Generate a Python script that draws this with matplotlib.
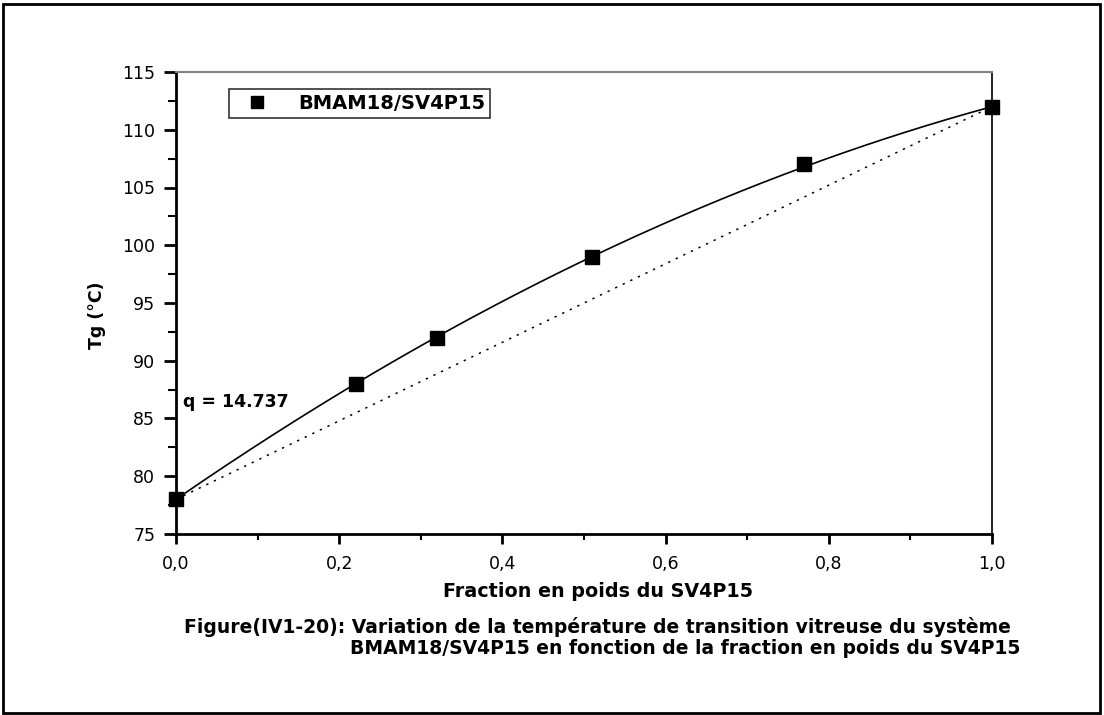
import matplotlib
matplotlib.use("Agg")
import matplotlib.pyplot as plt
import numpy as np
from matplotlib.patches import Rectangle
from matplotlib.ticker import MultipleLocator

plt.rcParams['font.family'] = ['DejaVu Sans']

# Data
fraction = [0.0, 0.22, 0.32, 0.51, 0.77, 1.0]
tg = [78, 88, 92, 99, 107, 112]
tg1 = 78.0
tg2 = 112.0
q = 14.737
series_label = "BMAM18/SV4P15"
xticks = [0.0, 0.2, 0.4, 0.6, 0.8, 1.0]
xtick_labels = ['0,0', '0,2', '0,4', '0,6', '0,8', '1,0']
yticks = [75, 80, 85, 90, 95, 100, 105, 110, 115]

W, H = 1104, 715
fig = plt.figure(figsize=(W/100, H/100), dpi=100)
ax = fig.add_axes([176/W, 1-534/H, (992-176)/W, (534-72)/H])

# Kwei fit curve and linear additivity line
w = np.linspace(0, 1, 200)
kwei = tg1*(1-w) + tg2*w + q*w*(1-w)
ax.plot(w, kwei, color='black', lw=1.2, zorder=2)
ax.plot([0, 1], [tg1, tg2], color='black', lw=1.1, linestyle=(0, (1.5, 4)), zorder=2)
ax.plot(fraction, tg, linestyle='none', marker='s', ms=9.5, color='black',
        label=series_label, zorder=3, clip_on=False)

ax.set_xlim(0, 1)
ax.set_ylim(75, 115)
ax.set_xticks(xticks)
ax.set_xticklabels(xtick_labels)
ax.set_yticks(yticks)
ax.xaxis.set_minor_locator(MultipleLocator(0.1))
ax.yaxis.set_minor_locator(MultipleLocator(2.5))

for s in ['left', 'bottom']:
    ax.spines[s].set_linewidth(2)
ax.spines['top'].set_color('#808080')
ax.spines['top'].set_linewidth(1.5)
ax.spines['right'].set_linewidth(1.2)
ax.tick_params(axis='y', which='major', direction='out', length=9, width=2, labelsize=12.5, pad=6)
ax.tick_params(axis='y', which='minor', direction='out', length=5.5, width=1.5)
ax.tick_params(axis='x', which='major', direction='out', length=7, width=2, labelsize=12.5, pad=8)
ax.tick_params(axis='x', which='minor', direction='out', length=4, width=1.5)
ax.tick_params(top=False, right=False, which='both')

ax.set_xlabel('Fraction en poids du SV4P15', fontsize=13.8, fontweight='bold')
ax.xaxis.set_label_coords((598-176)/816, -(582-534)/462)
ax.set_ylabel('Tg (°C)', fontsize=12.5, fontweight='bold')
ax.yaxis.set_label_coords(-(176-106)/816, (534-315)/462)

ax.text(0.008, 86.4, 'q = 14.737', fontsize=12.5, fontweight='bold', ha='left', va='center')

leg = ax.legend(loc='upper left', bbox_to_anchor=((229-176)/816, (534-89)/462), frameon=True,
                fancybox=False, edgecolor='black', handlelength=2.4,
                handletextpad=0.9, borderpad=0.25, borderaxespad=0, markerscale=0.85,
                prop={'weight': 'bold', 'size': 14})
leg.get_frame().set_linewidth(1.2)

fig.text(597/W, 1-627/H,
         'Figure(IV1-20): Variation de la température de transition vitreuse du système',
         fontsize=13.5, fontweight='bold', ha='center', va='center')
fig.text(685/W, 1-649/H,
         'BMAM18/SV4P15 en fonction de la fraction en poids du SV4P15',
         fontsize=13.5, fontweight='bold', ha='center', va='center')

fig.add_artist(Rectangle((3/W, 2/H), 1097/W, 709/H, transform=fig.transFigure,
                         fill=False, edgecolor='black', lw=2))

fig.savefig('out.png', dpi=100)
